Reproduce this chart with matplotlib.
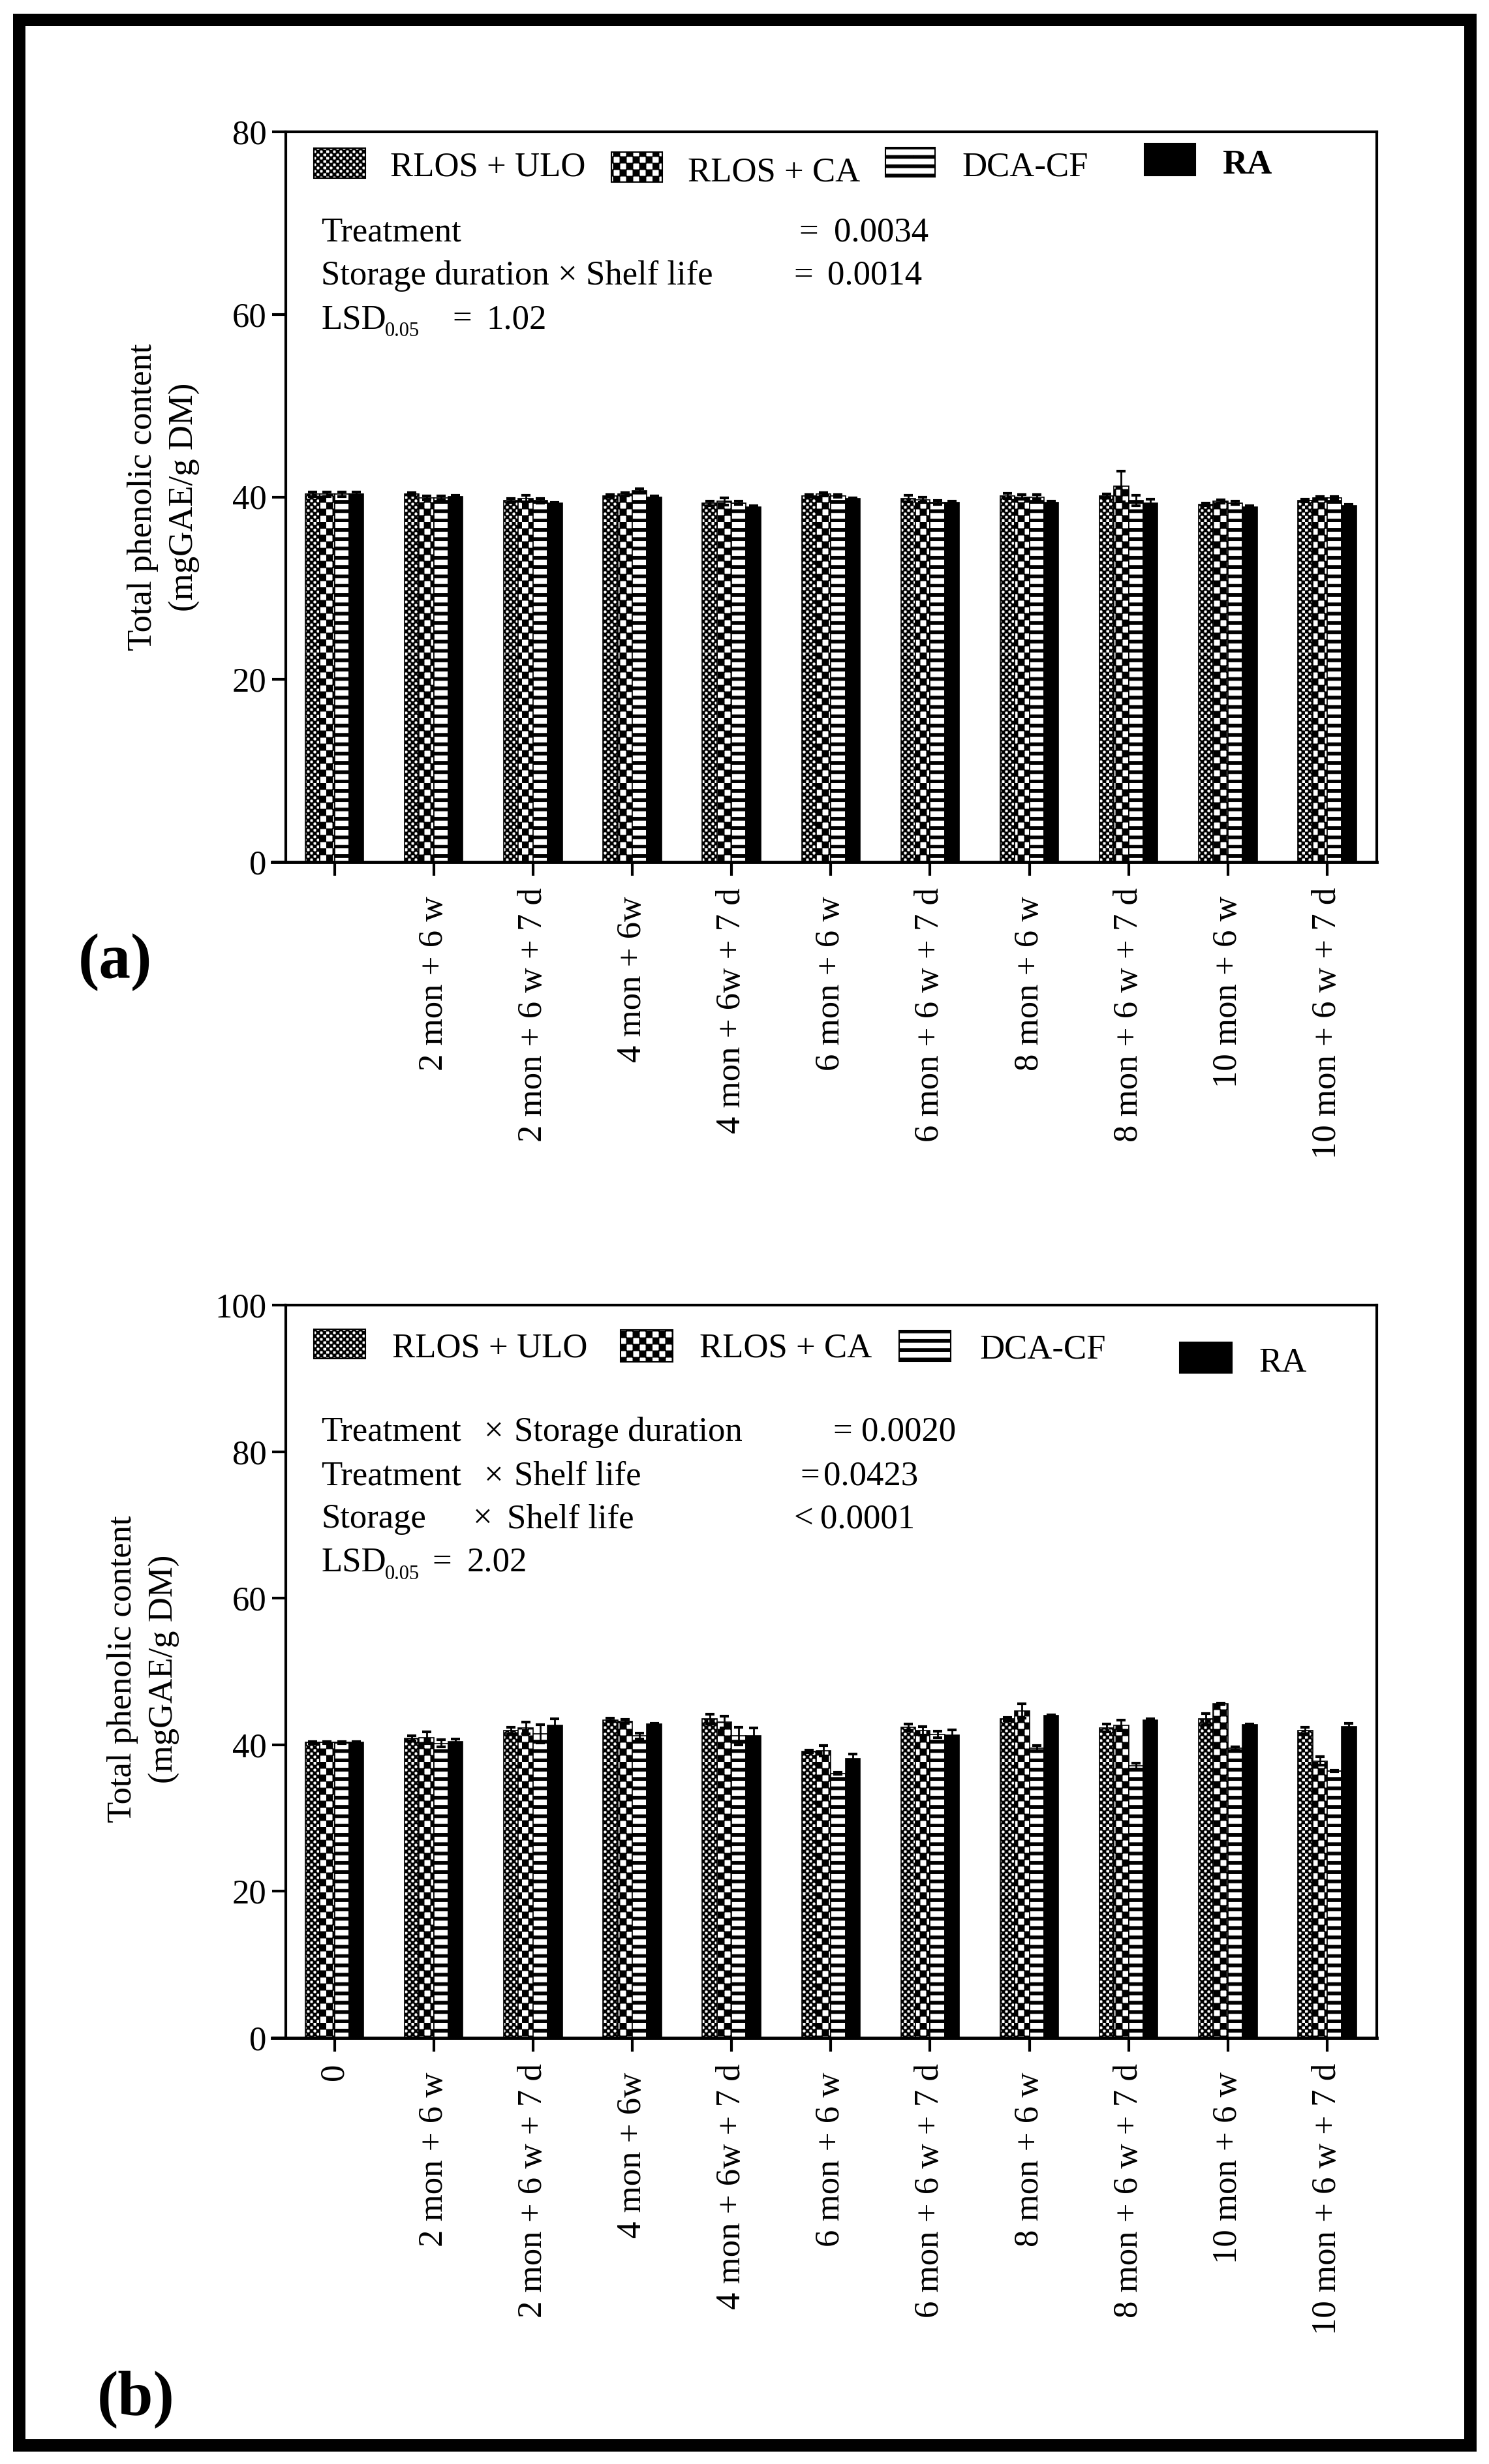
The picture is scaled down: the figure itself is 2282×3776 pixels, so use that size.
import numpy as np
import matplotlib
matplotlib.use("Agg")
import matplotlib.pyplot as plt
import matplotlib.hatch as mhatch
from matplotlib.path import Path
from matplotlib.patches import Rectangle

# ---- data -------------------------------------------------------------
labels_a = ["", "2 mon + 6 w ", "2 mon + 6 w + 7 d", "4 mon + 6w ", "4 mon + 6w + 7 d",
            "6 mon + 6 w ", "6 mon + 6 w + 7 d", "8 mon + 6 w ", "8 mon + 6 w + 7 d",
            "10 mon + 6 w ", "10 mon + 6 w + 7 d"]
labels_b = ["0"] + labels_a[1:]
series = ["RLOS + ULO", "RLOS + CA", "DCA-CF", "RA"]

# (a) total phenolic content
ulo_a = [40.3, 40.3, 39.6, 40.1, 39.3, 40.1, 39.8, 40.1, 40.1, 39.2, 39.6]
ca_a = [40.3, 39.9, 39.8, 40.3, 39.5, 40.3, 39.7, 40.0, 41.15, 39.5, 39.9]
dca_a = [40.3, 39.9, 39.6, 40.7, 39.35, 40.1, 39.4, 40.0, 39.6, 39.35, 39.9]
ra_a = [40.3, 40.05, 39.3, 40.0, 38.9, 39.8, 39.4, 39.4, 39.35, 38.9, 39.05]
ulo_a_err = [0.25, 0.15, 0.2, 0.15, 0.25, 0.15, 0.35, 0.3, 0.2, 0.15, 0.15]
ca_a_err = [0.25, 0.2, 0.35, 0.2, 0.4, 0.2, 0.3, 0.25, 1.7, 0.2, 0.15]
dca_a_err = [0.25, 0.2, 0.25, 0.2, 0.2, 0.15, 0.2, 0.25, 0.55, 0.15, 0.15]
ra_a_err = [0.25, 0.1, 0.1, 0.1, 0.1, 0.1, 0.1, 0.1, 0.4, 0.1, 0.1]

# (b)
ulo_b = [40.3, 40.9, 41.9, 43.4, 43.5, 39.1, 42.4, 43.5, 42.3, 43.5, 41.9]
ca_b = [40.3, 41.0, 42.3, 43.2, 43.1, 39.2, 41.9, 44.6, 42.65, 45.6, 37.8]
dca_b = [40.3, 40.2, 41.5, 41.2, 41.2, 36.1, 41.4, 39.5, 37.1, 39.5, 36.4]
ra_b = [40.3, 40.4, 42.65, 42.8, 41.2, 38.1, 41.35, 44.0, 43.4, 42.7, 42.5]
ulo_b_err = [0.1, 0.35, 0.45, 0.25, 0.7, 0.2, 0.45, 0.25, 0.5, 0.75, 0.45]
ca_b_err = [0.1, 0.8, 0.8, 0.25, 0.8, 0.7, 0.6, 1.0, 0.7, 0.1, 0.6]
dca_b_err = [0.1, 0.5, 1.25, 0.4, 1.2, 0.1, 0.45, 0.4, 0.4, 0.2, 0.1]
ra_b_err = [0.1, 0.35, 0.85, 0.15, 1.1, 0.6, 0.7, 0.1, 0.1, 0.15, 0.4]


# ---- custom fill patterns (checkerboards and thick bands) --------------
class Checker(mhatch.HatchPatternBase):
    # 'o' -> fine checkerboard, 'O' -> coarse checkerboard
    def __init__(self, hatch, density):
        if "o" in hatch:
            self.n = 20
        elif "O" in hatch:
            self.n = 10
        else:
            self.n = 0
        self.num_vertices = 5 * (self.n * self.n // 2)

    def set_vertices_and_codes(self, vertices, codes):
        s = 1.0 / self.n
        k = 0
        for i in range(self.n):
            for j in range(self.n):
                if (i + j) % 2 == 0:
                    x0, y0 = i * s, j * s
                    vertices[k:k + 5] = [(x0, y0), (x0 + s, y0), (x0 + s, y0 + s),
                                         (x0, y0 + s), (x0, y0)]
                    codes[k:k + 5] = [Path.MOVETO, Path.LINETO, Path.LINETO,
                                      Path.LINETO, Path.CLOSEPOLY]
                    k += 5


class Bands(mhatch.HatchPatternBase):
    # '-' -> thick horizontal bands
    def __init__(self, hatch, density):
        self.n = 7 if "-" in hatch else 0
        self.num_vertices = 5 * self.n

    def set_vertices_and_codes(self, vertices, codes):
        p = 1.0 / self.n
        t = 0.33 * p
        for i in range(self.n):
            y0 = i * p
            vertices[5 * i:5 * i + 5] = [(0, y0), (1, y0), (1, y0 + t), (0, y0 + t), (0, y0)]
            codes[5 * i:5 * i + 5] = [Path.MOVETO, Path.LINETO, Path.LINETO,
                                      Path.LINETO, Path.CLOSEPOLY]


if hasattr(mhatch, "_hatch_types"):
    mhatch._hatch_types[:] = [Checker, Bands]

plt.rcParams["font.family"] = ["Liberation Serif", "DejaVu Serif"]
plt.rcParams["hatch.linewidth"] = 0.7

W, H = 2282, 3776
FS = 38
fig = plt.figure(figsize=(W / 100, H / 100), dpi=100)


def fx(x):
    return x / W


def fy(y):
    return 1 - y / H


def ftext(x, y, s, **kw):
    kw.setdefault("fontsize", FS)
    kw.setdefault("va", "baseline")
    fig.text(fx(x), fy(y), s, **kw)


def fbox(x0, y0, x1, y1, hatch=None, fc="white"):
    fig.add_artist(Rectangle((fx(x0), fy(y1)), (x1 - x0) / W, (y1 - y0) / H,
                             transform=fig.transFigure, facecolor=fc,
                             edgecolor="black", hatch=hatch, lw=1.5))


def lsd(x, y):
    # LSD with a small subscript 0.05
    ftext(x, y, "LSD")
    ftext(x + 98, y + 12, "0.05", fontsize=22)


hatches = ["o", "O", "-", None]
faces = ["white", "white", "white", "black"]
width = 0.147
offsets = [-1.5 * width, -0.5 * width, 0.5 * width, 1.5 * width]


def draw_panel(ax, labels, vals, errs, ymax):
    x = np.arange(len(labels))
    for k in range(4):
        ax.bar(x + offsets[k], vals[k], width, color=faces[k], edgecolor="black",
               hatch=hatches[k], linewidth=1.2, zorder=2)
        ax.errorbar(x + offsets[k], vals[k], yerr=errs[k], fmt="none", ecolor="black",
                    elinewidth=2, capsize=5, capthick=3, zorder=3)
    ax.set_xlim(-0.49, 10.5)
    ax.set_ylim(0, ymax)
    ax.set_yticks(np.arange(0, ymax + 1, 20))
    ax.set_xticks(x, labels, rotation=90)
    for sp in ax.spines.values():
        sp.set_linewidth(3)
    ax.spines["bottom"].set_linewidth(3.5)
    ax.spines["bottom"].set_bounds(-0.63, 10.5)
    ax.tick_params(axis="both", direction="out", length=15, width=3, labelsize=FS)
    ax.tick_params(axis="x", pad=13)
    ax.tick_params(axis="y", pad=6)


ax_a = fig.add_axes([438 / W, 1 - 1321 / H, (2110 - 438) / W, (1321 - 202) / H])
draw_panel(ax_a, labels_a, [ulo_a, ca_a, dca_a, ra_a],
           [ulo_a_err, ca_a_err, dca_a_err, ra_a_err], 80)

ax_b = fig.add_axes([438 / W, 1 - 3123 / H, (2110 - 438) / W, (3123 - 2000) / H])
draw_panel(ax_b, labels_b, [ulo_b, ca_b, dca_b, ra_b],
           [ulo_b_err, ca_b_err, dca_b_err, ra_b_err], 100)

# y labels
ftext(219, 762, "Total phenolic content", rotation=90, ha="center", va="center")
ftext(283, 762, "(mgGAE/g DM)", rotation=90, ha="center", va="center")
ftext(188, 2558, "Total phenolic content", rotation=90, ha="center", va="center")
ftext(252, 2558, "(mgGAE/g DM)", rotation=90, ha="center", va="center")

# legend (a)
fbox(481, 227, 560, 273, "o")
ftext(598, 270, series[0])
fbox(937, 233, 1015, 279, "O")
ftext(1054, 277, series[1])
fbox(1357, 226, 1433, 271, "-")
ftext(1474, 270, series[2])
fbox(1754, 220, 1832, 269, fc="black")
ftext(1873, 266, series[3], fontweight="bold")

# statistics (a)
ftext(492, 370, "Treatment")
ftext(1224, 370, "=")
ftext(1278, 370, "0.0034")
ftext(492, 436, "Storage duration \u00d7 Shelf life")
ftext(1216, 436, "=")
ftext(1268, 436, "0.0014")
lsd(492, 503)
ftext(693, 503, "=")
ftext(745, 503, "1.02")

# legend (b)
fbox(481, 2037, 560, 2082, "o")
ftext(601, 2080, series[0])
fbox(951, 2038, 1031, 2087, "O")
ftext(1072, 2080, series[1])
fbox(1378, 2039, 1457, 2086, "-")
ftext(1501, 2082, series[2])
fbox(1808, 2057, 1888, 2104, fc="black")
ftext(1929, 2102, series[3])

# statistics (b)
ftext(492, 2208, "Treatment")
ftext(742, 2208, "\u00d7")
ftext(788, 2208, "Storage duration")
ftext(1276, 2208, "=")
ftext(1320, 2208, "0.0020")
ftext(492, 2276, "Treatment")
ftext(742, 2276, "\u00d7")
ftext(788, 2276, "Shelf life")
ftext(1226, 2276, "=")
ftext(1262, 2276, "0.0423")
ftext(492, 2341, "Storage")
ftext(725, 2341, "\u00d7")
ftext(777, 2341, "Shelf life")
ftext(1216, 2341, "<")
ftext(1257, 2341, "0.0001")
lsd(492, 2408)
ftext(662, 2408, "=")
ftext(716, 2408, "2.02")

# panel letters
ftext(176, 1475, "(a)", fontsize=70, fontweight="bold", ha="center", va="center")
ftext(208, 3677, "(b)", fontsize=70, fontweight="bold", ha="center", va="center")

# outer frame
fig.add_artist(Rectangle((fx(29), fy(3747)), (2253 - 29) / W, (3747 - 30) / H,
                         transform=fig.transFigure, fill=False, edgecolor="black",
                         lw=19 * 0.72))

fig.savefig("out.png", dpi=100)
